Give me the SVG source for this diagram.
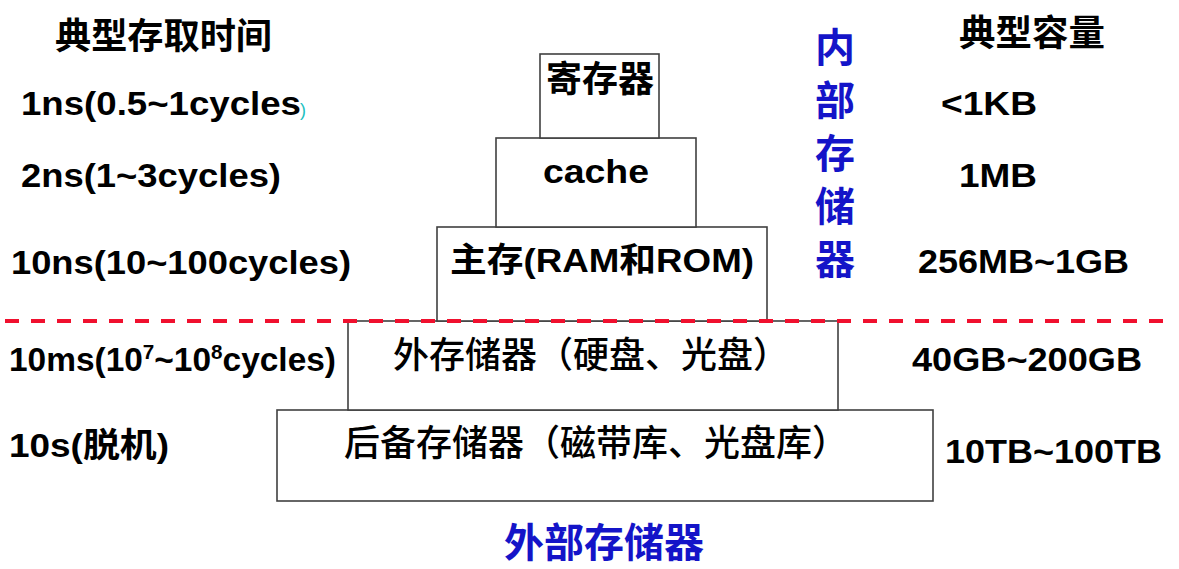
<svg xmlns="http://www.w3.org/2000/svg" width="1179" height="569" viewBox="0 0 1179 569">
<style>
.box{fill:#fff;stroke:#404040;stroke-width:1.6}
.t{font-family:"Liberation Sans","Noto Sans CJK SC",sans-serif;font-weight:bold;font-size:34px;fill:#000}
.cjk{font-family:"Noto Sans CJK SC","Liberation Sans",sans-serif;font-weight:bold;font-size:36px;fill:#000}
.cjkm{font-family:"Noto Sans CJK SC","Liberation Sans",sans-serif;font-weight:500;font-size:36px;fill:#000}
.blue{font-family:"Noto Sans CJK SC","Liberation Sans",sans-serif;font-weight:bold;font-size:40px;fill:#1414c8}
.dash{stroke:#f0102e;stroke-width:4;stroke-dasharray:14 12;fill:none}
</style>
<rect width="1179" height="569" fill="#fff"/>

<g id="headers">
<text class="cjk" x="55" y="49" textLength="217" lengthAdjust="spacingAndGlyphs">典型存取时间</text>
<text class="cjk" x="959" y="46" textLength="146" lengthAdjust="spacingAndGlyphs">典型容量</text>
</g>

<g id="times">
<text class="t" x="21" y="115" textLength="280" lengthAdjust="spacingAndGlyphs">1ns(0.5~1cycles</text>
<text x="300" y="116" style="font-family:'Liberation Sans',sans-serif;font-size:18px;fill:#20c0c0">)</text>
<text class="t" x="21" y="187" textLength="260" lengthAdjust="spacingAndGlyphs">2ns(1~3cycles)</text>
<text class="t" x="11" y="274" textLength="340" lengthAdjust="spacingAndGlyphs">10ns(10~100cycles)</text>
<text class="t" x="9" y="371" textLength="327" lengthAdjust="spacingAndGlyphs">10ms(10<tspan font-size="21" dy="-12">7</tspan><tspan dy="12">~10</tspan><tspan font-size="21" dy="-12">8</tspan><tspan dy="12">cycles)</tspan></text>
<text class="t" x="9" y="457" textLength="160" lengthAdjust="spacingAndGlyphs">10s(脱机)</text>
</g>

<g id="capacities">
<text class="t" x="941" y="115" textLength="96" lengthAdjust="spacingAndGlyphs">&lt;1KB</text>
<text class="t" x="959" y="187" textLength="78" lengthAdjust="spacingAndGlyphs">1MB</text>
<text class="t" x="918" y="273" textLength="211" lengthAdjust="spacingAndGlyphs">256MB~1GB</text>
<text class="t" x="912" y="371" textLength="230" lengthAdjust="spacingAndGlyphs">40GB~200GB</text>
<text class="t" x="945" y="463" textLength="217" lengthAdjust="spacingAndGlyphs">10TB~100TB</text>
</g>

<g id="backup">
<rect class="box" x="277" y="410" width="656" height="91"/>
<text class="cjkm" x="596" y="456" text-anchor="middle">后备存储器（磁带库、光盘库）</text>
</g>
<g id="external">
<rect class="box" x="348" y="321" width="490" height="89"/>
<text class="cjkm" x="591" y="368" text-anchor="middle">外存储器（硬盘、光盘）</text>
</g>
<g id="main-memory">
<rect class="box" x="437" y="227" width="330" height="94"/>
<text class="t" x="450" y="272" textLength="304" lengthAdjust="spacingAndGlyphs">主存(RAM和ROM)</text>
</g>
<g id="cache">
<rect class="box" x="496" y="138" width="200" height="89"/>
<text class="t" x="543" y="183" textLength="106" lengthAdjust="spacingAndGlyphs">cache</text>
</g>
<g id="register">
<rect class="box" x="540" y="54" width="119" height="84"/>
<text class="cjk" x="600" y="92" text-anchor="middle">寄存器</text>
</g>

<g id="connectors">
<line class="dash" x1="5" y1="321" x2="1174" y2="321"/>
</g>

<g id="labels">
<text class="blue" x="835" y="27" style="writing-mode:vertical-rl;letter-spacing:13px">内部存储器</text>
<text class="blue" x="504" y="557" textLength="200" lengthAdjust="spacingAndGlyphs">外部存储器</text>
</g>
</svg>
